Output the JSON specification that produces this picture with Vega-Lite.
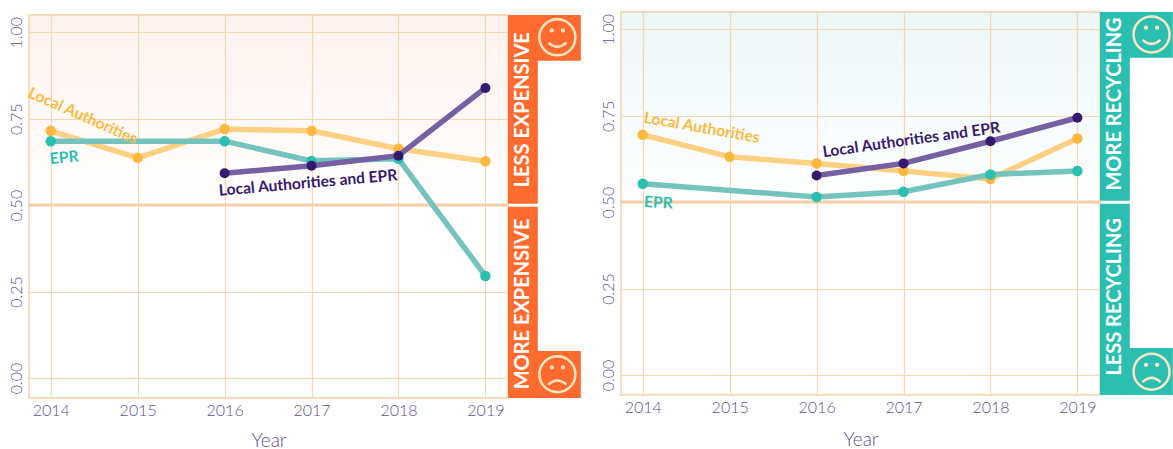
{"$schema":"https://vega.github.io/schema/vega-lite/v6.json","padding":{"left":7,"top":10,"right":0,"bottom":0},"background":"white","config":{"font":"Lato","view":{"stroke":"#f5cfa8","strokeWidth":1.5},"axis":{"grid":true,"gridColor":"#f5d7b0","gridWidth":1.2,"gridOpacity":1,"domain":false,"ticks":false,"labelColor":"#5f4f96","labelFont":"Lato","labelFontWeight":300,"labelFontSize":16,"titleColor":"#5f4f96","titleFont":"Lato","titleFontWeight":300,"titleFontSize":19}},"datasets":{"leftLines":[{"series":"Local Authorities","year":2014,"share":0.715},{"series":"Local Authorities","year":2015,"share":0.637},{"series":"Local Authorities","year":2016,"share":0.72},{"series":"Local Authorities","year":2017,"share":0.715},{"series":"Local Authorities","year":2018,"share":0.663},{"series":"Local Authorities","year":2019,"share":0.627},{"series":"EPR","year":2014,"share":0.685},{"series":"EPR","year":2016,"share":0.685},{"series":"EPR","year":2017,"share":0.628},{"series":"EPR","year":2018,"share":0.634},{"series":"EPR","year":2019,"share":0.295},{"series":"Local Authorities and EPR","year":2016,"share":0.592},{"series":"Local Authorities and EPR","year":2017,"share":0.614},{"series":"Local Authorities and EPR","year":2018,"share":0.643},{"series":"Local Authorities and EPR","year":2019,"share":0.839}],"rightLines":[{"series":"Local Authorities","year":2014,"share":0.695},{"series":"Local Authorities","year":2015,"share":0.631},{"series":"Local Authorities","year":2016,"share":0.612},{"series":"Local Authorities","year":2017,"share":0.59},{"series":"Local Authorities","year":2018,"share":0.567},{"series":"Local Authorities","year":2019,"share":0.684},{"series":"EPR","year":2014,"share":0.553},{"series":"EPR","year":2016,"share":0.515},{"series":"EPR","year":2017,"share":0.53},{"series":"EPR","year":2018,"share":0.58},{"series":"EPR","year":2019,"share":0.59},{"series":"Local Authorities and EPR","year":2016,"share":0.577},{"series":"Local Authorities and EPR","year":2017,"share":0.612},{"series":"Local Authorities and EPR","year":2018,"share":0.676},{"series":"Local Authorities and EPR","year":2019,"share":0.744}],"bands":[{"x0":2019.26,"x1":2019.603,"y0":0.5036,"y1":1.05},{"x0":2019.26,"x1":2019.603,"y0":-0.058,"y1":0.495},{"x0":2019.557,"x1":2020.098,"y0":0.9175,"y1":1.05},{"x0":2019.557,"x1":2020.098,"y0":-0.058,"y1":0.078}]},"spacing":17,"hconcat":[{"spacing":0,"vconcat":[{"width":479,"height":1,"data":{"values":[{"a":1}]},"mark":{"type":"rect","opacity":0},"view":{"stroke":null}},{"width":479,"height":383,"view":{"fill":{"gradient":"linear","x1":0,"y1":0,"x2":0,"y2":1,"stops":[{"offset":0,"color":"#fef2ee"},{"offset":0.5,"color":"#ffffff"},{"offset":1,"color":"#ffffff"}]}},"layer":[{"data":{"values":[{"mid":0.5}]},"mark":{"type":"rule","color":"#f5cfa8","strokeWidth":3},"encoding":{"y":{"field":"mid","type":"quantitative","scale":{"domain":[-0.058,1.05],"nice":false,"zero":false},"axis":{"title":null,"values":[0,0.25,0.5,0.75,1],"format":".2f","labelAngle":-90,"labelAlign":"center","labelBaseline":"middle","labelPadding":13}}}},{"data":{"name":"leftLines"},"transform":[{"filter":"datum.series==='Local Authorities'"}],"layer":[{"mark":{"type":"line","color":"#fdcf7a","strokeWidth":5.5,"opacity":0.95}},{"mark":{"type":"circle","size":110,"color":"#fdb93f","opacity":1}}],"encoding":{"x":{"field":"year","type":"quantitative","scale":{"domain":[2013.75,2019.26],"nice":false,"zero":false},"axis":{"title":"Year","values":[2014,2015,2016,2017,2018,2019],"format":"d","labelPadding":4,"titlePadding":13}},"y":{"field":"share","type":"quantitative"}}},{"data":{"name":"leftLines"},"transform":[{"filter":"datum.series==='EPR'"}],"layer":[{"mark":{"type":"line","color":"#74c4bd","strokeWidth":5.5}},{"mark":{"type":"circle","size":110,"color":"#2abfb1","opacity":1}}],"encoding":{"x":{"field":"year","type":"quantitative"},"y":{"field":"share","type":"quantitative"}}},{"data":{"name":"leftLines"},"transform":[{"filter":"datum.series==='Local Authorities and EPR'"}],"layer":[{"mark":{"type":"line","color":"#7560a3","strokeWidth":5.5}},{"mark":{"type":"circle","size":100,"color":"#35196f","opacity":1}}],"encoding":{"x":{"field":"year","type":"quantitative"},"y":{"field":"share","type":"quantitative"}}},{"data":{"values":[{"t":"Local Authorities","year":2014.37,"share":0.758}]},"mark":{"type":"text","angle":24,"fontSize":15.6,"fontWeight":"bold","color":"#fdb93f"},"encoding":{"x":{"field":"year","type":"quantitative"},"y":{"field":"share","type":"quantitative"},"text":{"field":"t"}}},{"data":{"values":[{"t":"EPR","year":2014.155,"share":0.637}]},"mark":{"type":"text","angle":-5,"fontSize":15.6,"fontWeight":"bold","color":"#2abfb1"},"encoding":{"x":{"field":"year","type":"quantitative"},"y":{"field":"share","type":"quantitative"},"text":{"field":"t"}}},{"data":{"values":[{"t":"Local Authorities and EPR","year":2016.96,"share":0.564}]},"mark":{"type":"text","angle":-5,"fontSize":15.6,"fontWeight":"bold","color":"#35196f"},"encoding":{"x":{"field":"year","type":"quantitative"},"y":{"field":"share","type":"quantitative"},"text":{"field":"t"}}},{"data":{"name":"bands"},"mark":{"type":"rect","color":"#ff6b2e"},"encoding":{"x":{"field":"x0","type":"quantitative"},"x2":{"field":"x1"},"y":{"field":"y0","type":"quantitative"},"y2":{"field":"y1"}}},{"data":{"values":[{"t":"LESS EXPENSIVE","year":2019.43,"share":0.776},{"t":"MORE EXPENSIVE","year":2019.43,"share":0.214}]},"mark":{"type":"text","angle":270,"fontSize":20,"fontWeight":"bold","color":"white"},"encoding":{"x":{"field":"year","type":"quantitative"},"y":{"field":"share","type":"quantitative"},"text":{"field":"t"}}},{"data":{"values":[{"year":2019.828,"share":0.9855}]},"mark":{"type":"point","filled":false,"size":1296,"strokeWidth":2.5,"opacity":1,"color":"#fde6c3","shape":"M-1 0A1 1 0 1 1 1 0A1 1 0 1 1-1 0ZM-.36-.38A.05 .05 0 1 1-.26-.38A.05 .05 0 1 1-.36-.38ZM.26-.38A.05 .05 0 1 1 .36-.38A.05 .05 0 1 1 .26-.38ZM-.5 .3Q0 .75 .5 .3"},"encoding":{"x":{"field":"year","type":"quantitative"},"y":{"field":"share","type":"quantitative"}}},{"data":{"values":[{"year":2019.828,"share":0.0107}]},"mark":{"type":"point","filled":false,"size":1296,"strokeWidth":2.5,"opacity":1,"color":"#fde6c3","shape":"M-1 0A1 1 0 1 1 1 0A1 1 0 1 1-1 0ZM-.36-.38A.05 .05 0 1 1-.26-.38A.05 .05 0 1 1-.36-.38ZM.26-.38A.05 .05 0 1 1 .36-.38A.05 .05 0 1 1 .26-.38ZM-.5 .58Q0 .12 .5 .58"},"encoding":{"x":{"field":"year","type":"quantitative"},"y":{"field":"share","type":"quantitative"}}}]}]},{"width":479,"height":383,"view":{"fill":{"gradient":"linear","x1":0,"y1":0,"x2":0,"y2":1,"stops":[{"offset":0,"color":"#edf7f8"},{"offset":0.5,"color":"#ffffff"},{"offset":1,"color":"#ffffff"}]}},"layer":[{"data":{"values":[{"mid":0.5}]},"mark":{"type":"rule","color":"#f5cfa8","strokeWidth":3},"encoding":{"y":{"field":"mid","type":"quantitative","scale":{"domain":[-0.058,1.05],"nice":false,"zero":false},"axis":{"title":null,"values":[0,0.25,0.5,0.75,1],"format":".2f","labelAngle":-90,"labelAlign":"center","labelBaseline":"middle","labelPadding":13}}}},{"data":{"name":"rightLines"},"transform":[{"filter":"datum.series==='Local Authorities'"}],"layer":[{"mark":{"type":"line","color":"#fdcf7a","strokeWidth":5.5,"opacity":0.95}},{"mark":{"type":"circle","size":110,"color":"#fdb93f","opacity":1}}],"encoding":{"x":{"field":"year","type":"quantitative","scale":{"domain":[2013.75,2019.26],"nice":false,"zero":false},"axis":{"title":"Year","values":[2014,2015,2016,2017,2018,2019],"format":"d","labelPadding":4,"titlePadding":15}},"y":{"field":"share","type":"quantitative"}}},{"data":{"name":"rightLines"},"transform":[{"filter":"datum.series==='EPR'"}],"layer":[{"mark":{"type":"line","color":"#74c4bd","strokeWidth":5.5}},{"mark":{"type":"circle","size":110,"color":"#2abfb1","opacity":1}}],"encoding":{"x":{"field":"year","type":"quantitative"},"y":{"field":"share","type":"quantitative"}}},{"data":{"name":"rightLines"},"transform":[{"filter":"datum.series==='Local Authorities and EPR'"}],"layer":[{"mark":{"type":"line","color":"#7560a3","strokeWidth":5.5}},{"mark":{"type":"circle","size":100,"color":"#35196f","opacity":1}}],"encoding":{"x":{"field":"year","type":"quantitative"},"y":{"field":"share","type":"quantitative"}}},{"data":{"values":[{"t":"Local Authorities","year":2014.68,"share":0.715}]},"mark":{"type":"text","angle":10,"fontSize":15.6,"fontWeight":"bold","color":"#fdb93f"},"encoding":{"x":{"field":"year","type":"quantitative"},"y":{"field":"share","type":"quantitative"},"text":{"field":"t"}}},{"data":{"values":[{"t":"EPR","year":2014.18,"share":0.498}]},"mark":{"type":"text","angle":3,"fontSize":15.6,"fontWeight":"bold","color":"#2abfb1"},"encoding":{"x":{"field":"year","type":"quantitative"},"y":{"field":"share","type":"quantitative"},"text":{"field":"t"}}},{"data":{"values":[{"t":"Local Authorities and EPR","year":2017.09,"share":0.68}]},"mark":{"type":"text","angle":-8,"fontSize":15.6,"fontWeight":"bold","color":"#35196f"},"encoding":{"x":{"field":"year","type":"quantitative"},"y":{"field":"share","type":"quantitative"},"text":{"field":"t"}}},{"data":{"name":"bands"},"mark":{"type":"rect","color":"#2abfb1"},"encoding":{"x":{"field":"x0","type":"quantitative"},"x2":{"field":"x1"},"y":{"field":"y0","type":"quantitative"},"y2":{"field":"y1"}}},{"data":{"values":[{"t":"MORE RECYCLING","year":2019.43,"share":0.784},{"t":"LESS RECYCLING","year":2019.43,"share":0.226}]},"mark":{"type":"text","angle":270,"fontSize":20,"fontWeight":"bold","color":"white"},"encoding":{"x":{"field":"year","type":"quantitative"},"y":{"field":"share","type":"quantitative"},"text":{"field":"t"}}},{"data":{"values":[{"year":2019.853,"share":0.985}]},"mark":{"type":"point","filled":false,"size":1296,"strokeWidth":2.5,"opacity":1,"color":"#fde6c3","shape":"M-1 0A1 1 0 1 1 1 0A1 1 0 1 1-1 0ZM-.36-.38A.05 .05 0 1 1-.26-.38A.05 .05 0 1 1-.36-.38ZM.26-.38A.05 .05 0 1 1 .36-.38A.05 .05 0 1 1 .26-.38ZM-.5 .3Q0 .75 .5 .3"},"encoding":{"x":{"field":"year","type":"quantitative"},"y":{"field":"share","type":"quantitative"}}},{"data":{"values":[{"year":2019.853,"share":0.0096}]},"mark":{"type":"point","filled":false,"size":1296,"strokeWidth":2.5,"opacity":1,"color":"#fde6c3","shape":"M-1 0A1 1 0 1 1 1 0A1 1 0 1 1-1 0ZM-.36-.38A.05 .05 0 1 1-.26-.38A.05 .05 0 1 1-.36-.38ZM.26-.38A.05 .05 0 1 1 .36-.38A.05 .05 0 1 1 .26-.38ZM-.5 .58Q0 .12 .5 .58"},"encoding":{"x":{"field":"year","type":"quantitative"},"y":{"field":"share","type":"quantitative"}}}]}]}
